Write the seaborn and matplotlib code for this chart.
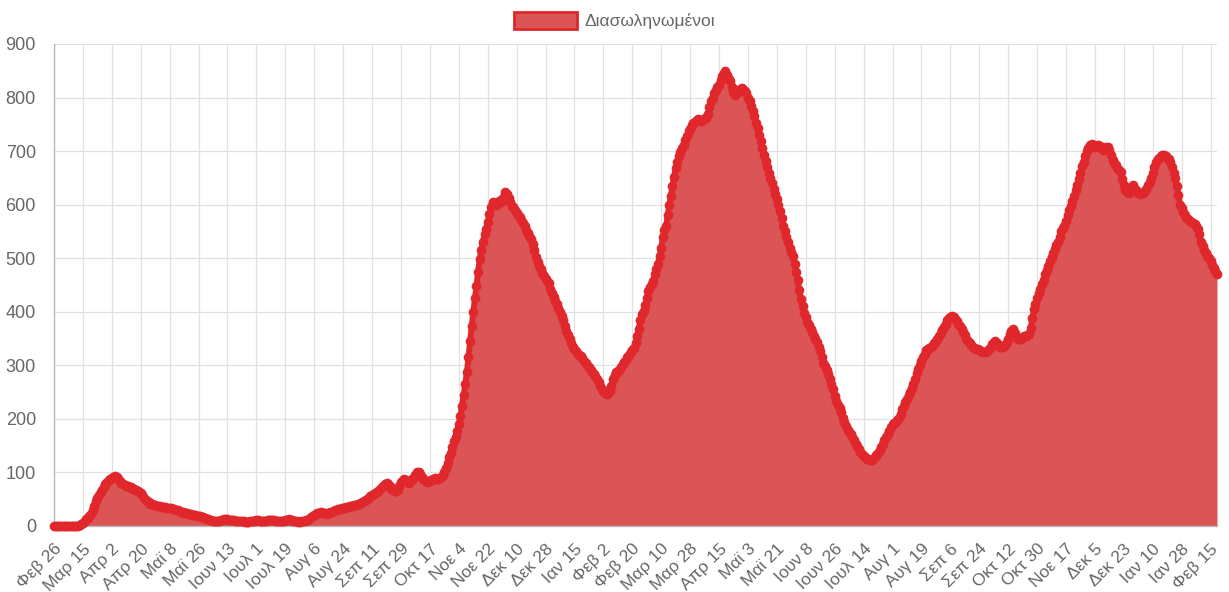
import numpy as np
import pandas as pd
import matplotlib
matplotlib.use("Agg")
import matplotlib.pyplot as plt
import seaborn as sns
from matplotlib.patches import Patch

# ---------------- data ----------------
start_date = "2020-02-26"
series_label = "Διασωληνωμένοι"
greek_months = ["Ιαν", "Φεβ", "Μαρ", "Απρ", "Μαϊ", "Ιουν",
                "Ιουλ", "Αυγ", "Σεπ", "Οκτ", "Νοε", "Δεκ"]
y_ticks = [0, 100, 200, 300, 400, 500, 600, 700, 800, 900]
label_step = 18

# 26 Feb 2020 - 31 Dec 2020 (310 days)
values_2020 = [
    0, 0, 0, 0, 0, 0, 0, 0, 0, 0, 0, 0, 0, 0, 0, 0,
    2, 4, 6, 10, 13,
    15, 18, 22, 30, 38, 46, 53, 58, 63, 68,
    72, 78, 82, 85, 87, 90, 92, 93, 91, 87,
    84, 80, 79, 76, 75, 74, 73, 72, 70, 69,
    68, 66, 64, 61, 57, 53, 49, 46, 44, 42,
    41, 40, 39, 38, 37, 37, 36, 35, 35, 34,
    34, 33, 33, 32, 31, 30, 29, 28, 27, 26,
    25, 24, 24, 23, 22, 21, 21, 20, 19, 19,
    18, 17, 16, 15, 14, 13, 12, 11, 10, 10,
    9, 9, 10, 11, 12, 13, 14, 13, 12, 12,
    11, 11, 10, 10, 10, 9, 9, 9, 8, 8,
    8, 9, 9, 10, 10, 11, 11, 10, 10, 9,
    9, 10, 11, 12, 12, 11, 11, 10, 10, 9,
    9, 9, 10, 11, 12, 13, 12, 11, 10, 10,
    9, 8, 8, 9, 9, 10, 11, 12, 14, 16,
    18, 20, 22, 24, 25, 26, 25, 24, 24, 23,
    24, 26, 27, 28, 29, 30, 31, 32, 33, 33,
    34, 35, 36, 37, 38, 38, 39, 40, 41, 42,
    43, 44, 46, 48, 50, 53, 56, 58, 60, 62,
    64, 66, 69, 72, 75, 78, 80, 78, 74, 70,
    68, 66, 66, 68, 75, 82, 86, 88, 85, 82,
    80, 84, 88, 92, 96, 101, 100, 97, 92, 88,
    85, 83, 82, 84, 86, 88, 89, 88, 87, 89,
    92, 95, 100, 108, 118, 128, 137, 148, 158, 167,
    178, 190, 205, 225, 245, 265, 287, 315, 345, 373,
    400, 425, 448, 475, 499, 515, 531, 545, 555, 568,
    582, 595, 605, 603, 600, 602, 606, 605, 610, 615,
    624, 620, 612, 605, 598, 595, 590, 585, 580, 577,
    572, 566, 560, 553, 547, 541, 536, 526, 515, 503,
    493, 485, 480, 472, 466, 462, 458, 453, 443,
]

# 1 Jan 2021 - 31 Dec 2021 (365 days)
values_2021 = [
    435,
    428, 420, 414, 407, 400, 392, 384, 374, 364, 356,
    349, 342, 335, 330, 326, 322, 319, 317, 313, 309,
    304, 300, 296, 292, 288, 284, 280, 275, 268, 261,
    256, 252, 248, 247, 249, 252, 262, 274, 282, 287,
    290, 292, 296, 302, 306, 310, 315, 320, 324, 328,
    333, 342, 355, 368, 385, 395, 402, 412, 425, 438,
    446, 452, 458, 470, 480, 490, 505, 520, 540, 552,
    561, 580, 600, 617, 635, 652, 668, 680, 690, 698,
    705, 712, 720, 728, 737, 742, 748, 752, 755, 758,
    760, 758, 756, 758, 762, 761, 770, 782, 793, 800,
    808, 815, 820, 824, 832, 840, 846, 849, 842, 835,
    830, 820, 810, 805, 808, 812, 816, 818, 815, 812,
    808, 800, 793, 785, 775, 765, 752, 743, 730, 718,
    705, 693, 682, 670, 660, 649, 640, 630, 620, 611,
    600, 588, 575, 561, 550, 540, 530, 520, 512, 505,
    490, 475, 460, 440, 424, 410, 398, 390, 381, 375,
    368, 362, 355, 349, 343, 335, 326, 316, 305, 298,
    292, 283, 274, 265, 255, 243, 234, 226, 220, 212,
    202, 194, 186, 180, 176, 172, 166, 160, 154, 149,
    143, 138, 134, 131, 128, 126, 125, 124, 123, 126,
    128, 132, 137, 142, 148, 153, 160, 166, 172, 178,
    184, 190, 193, 195, 198, 202, 210, 218, 225, 232,
    238, 244, 250, 258, 266, 275, 285, 293, 300, 308,
    316, 322, 328, 330, 332, 335, 338, 341, 345, 349,
    355, 360, 366, 372, 378, 384, 388, 390, 392, 390,
    387, 382, 377, 373, 368, 362, 356, 350, 345, 341,
    338, 335, 333, 331, 330, 328, 326, 325, 324, 324,
    326, 330, 335, 340, 343, 345, 342, 338, 335, 334,
    334, 338, 343, 350, 358, 365, 367, 360, 352, 349,
    349, 350, 352, 354, 355, 356, 358, 370, 388, 405,
    415, 425, 435, 443, 452, 460, 470, 478, 486, 495,
    503, 510, 518, 525, 530, 540, 550, 556, 561, 570,
    580, 590, 598, 607, 617, 627, 636, 648, 660, 672,
    680, 690, 700, 706, 711, 714, 712, 708, 710, 711,
    710, 706, 702, 705, 708, 708, 702, 693, 684, 678,
    674, 669, 665, 661, 648, 636, 628, 624, 622, 626,
    632, 636, 630, 625,
]

# 1 Jan 2022 - 19 Feb 2022 (50 days)
values_2022 = [
    621, 620, 622, 621, 625, 630,
    636, 643, 650, 660, 670, 680, 685, 688, 690, 692,
    692, 690, 688, 685, 680, 670, 660, 649, 635, 618,
    600, 593, 586, 580, 576, 574, 570, 567, 565, 563,
    561, 555, 545, 530, 522, 515, 510, 505, 500, 494,
    488, 482, 476, 471,
]

# ---------------- styling ----------------
fill_color = "#db5456"
line_color = "#e0282c"
grid_color = "#e1e1e1"
axis_color = "#b8b8b8"
text_color = "#666666"

values = values_2020 + values_2021 + values_2022
dates = pd.date_range(start_date, periods=len(values), freq="D")
df = pd.DataFrame({"day": np.arange(len(values)), "date": dates, "value": values})

sns.set_theme(style="whitegrid")
plt.rcParams["font.family"] = ["Liberation Sans", "DejaVu Sans"]

W, H = 1229, 592
fig = plt.figure(figsize=(W / 100, H / 100), dpi=100)
left, right, top, bottom = 54, 1217, 44, 526
ax = fig.add_axes([left / W, 1 - bottom / H, (right - left) / W, (bottom - top) / H])

ax.fill_between(df["day"], df["value"], 0, color=fill_color, linewidth=0, zorder=2)
sns.lineplot(data=df, x="day", y="value", ax=ax, color=line_color, linewidth=4.2,
             marker="o", markersize=7, markeredgewidth=0, zorder=3, legend=False)
for ln in ax.get_lines():
    ln.set_clip_on(False)
    ln.set_solid_joinstyle("round")
    ln.set_solid_capstyle("round")

ax.set_xlim(0, len(values) - 1)
ax.set_ylim(0, 900)
tick_pos = list(range(0, len(values), label_step))
tick_lbl = [f"{greek_months[dates[i].month - 1]} {dates[i].day}" for i in tick_pos]
ax.set_xticks(tick_pos)
ax.set_xticklabels(tick_lbl, rotation=45, ha="right", va="top",
                   rotation_mode="anchor", fontsize=12.5, color=text_color)
ax.set_yticks(y_ticks)
ax.set_yticklabels([str(v) for v in y_ticks], fontsize=13, color=text_color)
ax.set_xlabel("")
ax.set_ylabel("")

ax.grid(True, color=grid_color, linewidth=0.9)
ax.set_axisbelow(True)
ax.tick_params(axis="both", which="major", length=8, width=0.9, color=grid_color,
               direction="out")
ax.tick_params(axis="x", pad=3)
ax.tick_params(axis="y", pad=5)
for s in ["top", "right"]:
    ax.spines[s].set_visible(False)
for s in ["left", "bottom"]:
    ax.spines[s].set_visible(True)
    ax.spines[s].set_color(axis_color)
    ax.spines[s].set_linewidth(1.0)

handle = Patch(facecolor=fill_color, edgecolor=line_color, linewidth=2.0, label=series_label)
fig.legend(handles=[handle], loc="center", bbox_to_anchor=(0.5, 1 - 20.5 / H),
           frameon=False, fontsize=12.5, handlelength=3.6, handleheight=1.2,
           handletextpad=0.45, labelcolor=text_color)

fig.savefig("out.png", dpi=100, facecolor="white")
